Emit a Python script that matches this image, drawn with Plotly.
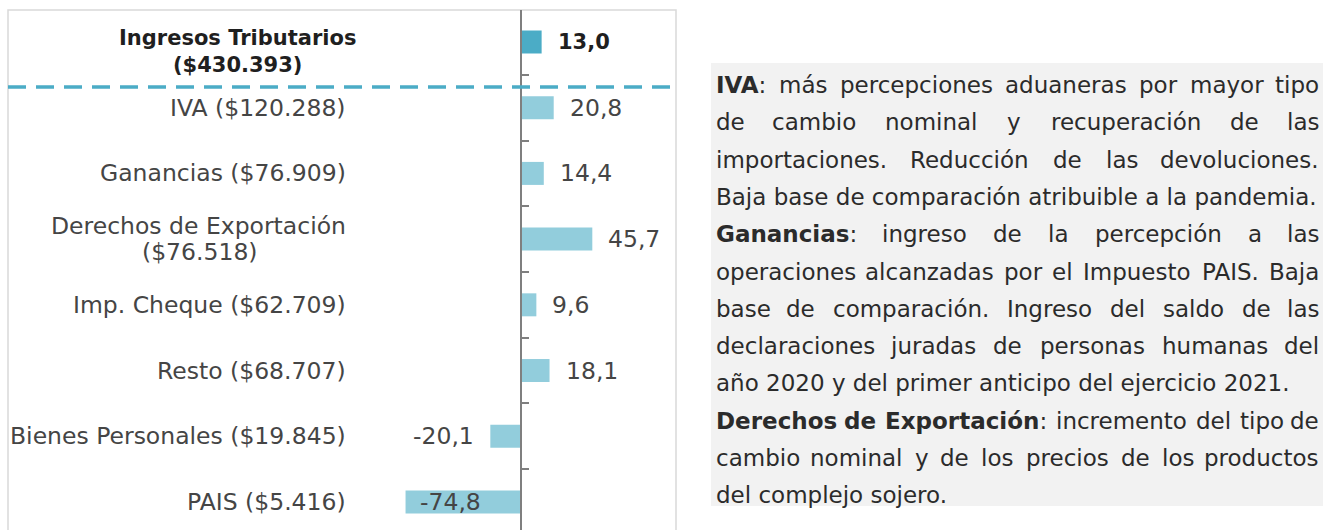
import plotly.graph_objects as go

W, H = 1323, 530

# ---------------- data ----------------
names = ["Ingresos Tributarios", "IVA", "Ganancias", "Derechos de Exportación",
         "Imp. Cheque", "Resto", "Bienes Personales", "PAIS"]
amounts = ["$430.393", "$120.288", "$76.909", "$76.518", "$62.709", "$68.707",
           "$19.845", "$5.416"]
var_pct = [13.0, 20.8, 14.4, 45.7, 9.6, 18.1, -20.1, -74.8]

# explanatory panel: (bold lead, rest of line, justified?)
panel_lines = [
    ("IVA", ": más percepciones aduaneras por mayor tipo", True),
    ("", "de cambio nominal y recuperación de las", True),
    ("", "importaciones. Reducción de las devoluciones.", True),
    ("", "Baja base de comparación atribuible a la pandemia.", False),
    ("Ganancias", ": ingreso de la percepción a las", True),
    ("", "operaciones alcanzadas por el Impuesto PAIS. Baja", True),
    ("", "base de comparación. Ingreso del saldo de las", True),
    ("", "declaraciones juradas de personas humanas del", True),
    ("", "año 2020 y del primer anticipo del ejercicio 2021.", False),
    ("Derechos de Exportación", ": incremento del tipo de", True),
    ("", "cambio nominal y de los precios de los productos", True),
    ("", "del complejo sojero.", False),
]

# ---------------- styling ----------------
FONT = "DejaVu Sans"
C_TOTAL = "#4BACC6"
C_BAR = "#92CDDC"
C_TEXT = "#454545"
C_DARK = "#1F1F1F"
LBL_SIZE = 23.5

px = lambda v: v / W
py = lambda v: 1 - v / H

REG = {' ': .318, 'a': .613, 'b': .635, 'c': .55, 'd': .635, 'e': .615, 'f': .352,
       'g': .635, 'h': .634, 'i': .278, 'j': .278, 'k': .579, 'l': .278, 'm': .974,
       'n': .634, 'o': .612, 'p': .635, 'q': .635, 'r': .411, 's': .521, 't': .392,
       'u': .634, 'v': .592, 'w': .818, 'x': .592, 'y': .592, 'z': .525, '.': .318,
       ',': .318, ':': .337, 'A': .684, 'B': .686, 'C': .698, 'D': .77, 'E': .632,
       'G': .775, 'I': .295, 'P': .603, 'R': .695, 'S': .635, 'V': .684, 'T': .611,
       'á': .613, 'é': .615, 'í': .278, 'ó': .612, 'ú': .634, 'ñ': .634}
BOLD = {' ': .348, 'a': .675, 'b': .716, 'c': .593, 'd': .716, 'e': .678, 'h': .712,
        'i': .343, 'n': .712, 'o': .687, 'p': .716, 'r': .493, 's': .595, 't': .478,
        'x': .663, 'u': .712, 'l': .343, 'm': 1.042, 'g': .716, 'A': .774, 'I': .372,
        'V': .774, 'G': .821, 'D': .83, 'E': .683, 'ó': .687}


def wid(s, size, bold=False):
    t = BOLD if bold else REG
    return sum(t.get(ch, 0.62 if not bold else 0.7) for ch in s) * size


# x scale
x_min, x_max = -331.3, 99.7
dom_x0, dom_x1 = 8, 676
zero_px = dom_x0 + (0 - x_min) / (x_max - x_min) * (dom_x1 - dom_x0)

colors = [C_TOTAL] + [C_BAR] * (len(names) - 1)

fig = go.Figure()
fig.add_trace(go.Bar(
    x=var_pct, y=names, orientation="h",
    marker=dict(color=colors, line=dict(width=0)),
    width=0.35, hoverinfo="x+y", showlegend=False,
))

annotations = []

# category labels
LBL_RIGHT = 348
for i, (n, a) in enumerate(zip(names, amounts)):
    if i == 0:
        annotations.append(dict(
            x=px(237), xref="paper", y=n, yref="y", xanchor="center", yanchor="middle",
            yshift=-9, text=f"<b>{n}<br>({a})</b>", showarrow=False, align="center",
            font=dict(family=FONT, size=21, color=C_DARK)))
    elif len(n) < 20:
        annotations.append(dict(
            x=px(LBL_RIGHT), xref="paper", y=n, yref="y", xanchor="right", yanchor="middle",
            text=f"{n} ({a})", showarrow=False,
            font=dict(family=FONT, size=LBL_SIZE, color=C_TEXT)))
    else:
        # two-line label, lines centred on each other
        w1 = wid(n, LBL_SIZE)
        annotations.append(dict(
            x=px(LBL_RIGHT), xref="paper", y=n, yref="y", xanchor="right", yanchor="middle",
            yshift=13, text=n, showarrow=False,
            font=dict(family=FONT, size=LBL_SIZE, color=C_TEXT)))
        annotations.append(dict(
            x=px(LBL_RIGHT - w1 / 2), xref="paper", y=n, yref="y", xanchor="center",
            yanchor="middle", yshift=-13, text=f"({a})", showarrow=False,
            font=dict(family=FONT, size=LBL_SIZE, color=C_TEXT)))

# value labels
for i, (n, v) in enumerate(zip(names, var_pct)):
    s = f"{v:.1f}".replace(".", ",")
    if i == 0:
        s = f"<b>{s}</b>"
        fnt = dict(family=FONT, size=21, color=C_DARK)
    else:
        fnt = dict(family=FONT, size=LBL_SIZE, color=C_TEXT)
    if v >= 0:
        anchor, shift = "left", 14
    elif abs(v) > 60:
        anchor, shift = "left", 12
    else:
        anchor, shift = "right", -14
    annotations.append(dict(
        x=v, xref="x", y=n, yref="y", xanchor=anchor, yanchor="middle", xshift=shift,
        text=s, showarrow=False, font=fnt))

# ---------------- justified text panel ----------------
P_SIZE = 23
P_X0, P_X1 = 714, 1321
P_Y0, P_DY = 85, 37.3
C_PANEL = "#2B2B2B"

for li, (lead, rest, just) in enumerate(panel_lines):
    ypos = py(P_Y0 + li * P_DY)
    if not just:
        txt = (f"<b>{lead}</b>" if lead else "") + rest
        annotations.append(dict(x=px(P_X0), xref="paper", y=ypos, yref="paper",
                                xanchor="left", yanchor="middle", text=txt, showarrow=False,
                                font=dict(family=FONT, size=P_SIZE, color=C_PANEL)))
        continue
    tokens = []  # (html, width)
    lead_words = lead.split() if lead else []
    rest_words = rest.split()
    for k, w in enumerate(lead_words):
        html, wd = f"<b>{w}</b>", wid(w, P_SIZE, True)
        if k == len(lead_words) - 1 and rest_words and rest_words[0] == ":":
            html += ":"
            wd += wid(":", P_SIZE)
        tokens.append((html, wd))
    if lead_words and rest_words and rest_words[0] == ":":
        rest_words = rest_words[1:]
    for w in rest_words:
        tokens.append((w, wid(w, P_SIZE)))
    total = sum(t[1] for t in tokens)
    gap = (P_X1 - P_X0 - total) / (len(tokens) - 1)
    cur = P_X0
    for k, (html, wd) in enumerate(tokens):
        if k == 0:
            xa, xp = "left", cur
        elif k == len(tokens) - 1:
            xa, xp = "right", P_X1
        else:
            xa, xp = "center", cur + wd / 2
        annotations.append(dict(x=px(xp), xref="paper", y=ypos, yref="paper",
                                xanchor=xa, yanchor="middle", text=html, showarrow=False,
                                font=dict(family=FONT, size=P_SIZE, color=C_PANEL)))
        cur += wd + gap

shapes = [
    # chart frame
    dict(type="rect", xref="paper", yref="paper", x0=px(8), x1=px(676), y0=-0.1, y1=py(10),
         line=dict(color="#D9D9D9", width=1.5), fillcolor="rgba(0,0,0,0)", layer="below"),
    # text panel background
    dict(type="rect", xref="paper", yref="paper", x0=px(711), x1=1.0, y0=py(506), y1=py(63),
         line=dict(width=0), fillcolor="#F2F2F2", layer="below"),
    # dashed separator
    dict(type="line", xref="paper", yref="paper", x0=px(8), x1=px(670), y0=py(87), y1=py(87),
         line=dict(color=C_TOTAL, width=3.5, dash="18px,10px")),
]

fig.update_layout(
    width=W, height=H,
    margin=dict(l=0, r=0, t=0, b=0),
    paper_bgcolor="white", plot_bgcolor="rgba(0,0,0,0)",
    xaxis=dict(domain=[px(dom_x0), px(dom_x1)], range=[x_min, x_max], visible=False,
               fixedrange=True),
    yaxis=dict(domain=[0, py(10)], categoryorder="array", categoryarray=names,
               range=[7.427, -0.487], anchor="free", position=px(zero_px),
               showline=True, linecolor="#7F7F7F", linewidth=2,
               ticks="inside", tickson="boundaries", ticklen=7, tickcolor="#7F7F7F",
               tickwidth=1.5, showticklabels=False, showgrid=False, zeroline=False,
               fixedrange=True),
    annotations=annotations,
    shapes=shapes,
    font=dict(family=FONT),
)

fig.write_html("out.html", config={"displayModeBar": False},
               post_script="document.body.style.margin='0';document.body.style.overflow='hidden';")
